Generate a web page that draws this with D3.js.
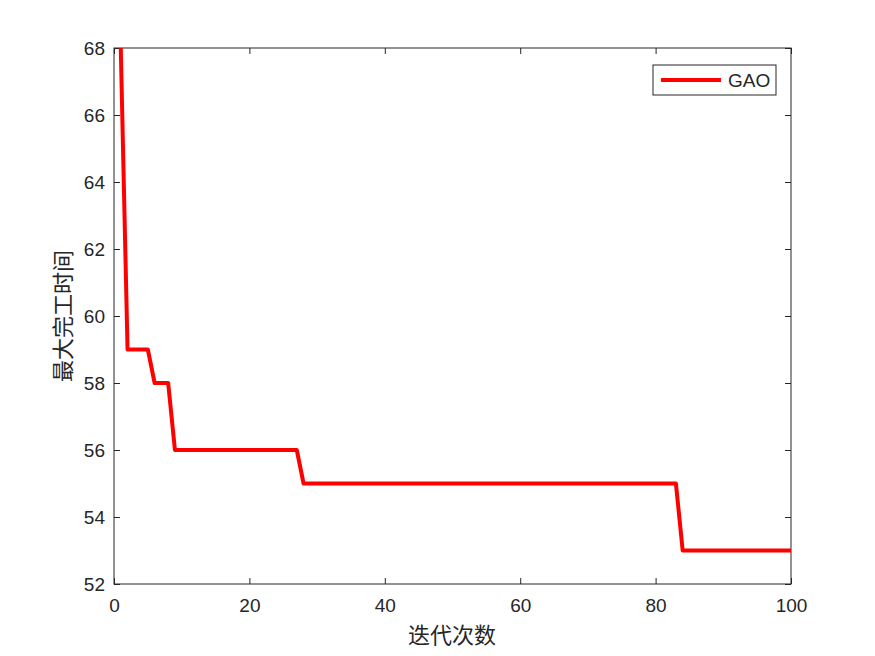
<!DOCTYPE html>
<html>
<head>
<meta charset="utf-8">
<script src="https://cdn.jsdelivr.net/npm/d3@7"></script>
<style>
  body { margin: 0; background: #fff; }
  text { font-family: "Liberation Sans", Arial, sans-serif; fill: #262626; }
  .cjk { font-family: "Noto Sans CJK SC", sans-serif; }
</style>
</head>
<body>
<script>
// 迭代数据 (GAO 收敛曲线)
const iterations = d3.range(1, 101);
// 每段: [起始迭代, 值]
const steps = [[1, 68], [2, 59], [6, 58], [9, 56], [28, 55], [84, 53]];
const gaoValues = iterations.map(function(it) {
    let v = steps[0][1];
    steps.forEach(function(s) { if (it >= s[0]) v = s[1]; });
    return v;
});
const xTicks = [0, 20, 40, 60, 80, 100];
const yTicks = [52, 54, 56, 58, 60, 62, 64, 66, 68];
const seriesName = "GAO";

const W = 875, H = 656;
const margin = {top: 48, right: 84, bottom: 72, left: 114};
const w = W - margin.left - margin.right;
const h = H - margin.top - margin.bottom;

const svg = d3.select("body").append("svg")
    .attr("width", W)
    .attr("height", H);

const g = svg.append("g")
    .attr("transform", "translate(" + margin.left + "," + margin.top + ")");

const xScale = d3.scaleLinear().domain([0, 100]).range([0, w]);
const yScale = d3.scaleLinear().domain([52, 68]).range([h, 0]);

g.append("clipPath").attr("id", "clip")
    .append("rect").attr("width", w).attr("height", h);

// 坐标轴 (刻度朝内)
const axisColor = "#262626";
function styleAxis(sel, hideText) {
    sel.select(".domain").remove();
    sel.selectAll("line").attr("stroke", axisColor);
    sel.selectAll("text")
        .attr("font-size", "19px")
        .attr("fill", axisColor)
        .style("font-family", "'Liberation Sans', Arial, sans-serif");
    if (hideText) sel.selectAll("text").remove();
}

g.append("g")
    .attr("transform", "translate(0," + h + ")")
    .call(d3.axisBottom(xScale).tickValues(xTicks).tickSize(-6).tickPadding(15))
    .call(styleAxis, false);
g.append("g")
    .call(d3.axisTop(xScale).tickValues(xTicks).tickSize(-6))
    .call(styleAxis, true);
g.append("g")
    .call(d3.axisLeft(yScale).tickValues(yTicks).tickSize(-6).tickPadding(9))
    .call(styleAxis, false);
g.append("g")
    .attr("transform", "translate(" + w + ",0)")
    .call(d3.axisRight(yScale).tickValues(yTicks).tickSize(-6))
    .call(styleAxis, true);

// 边框
g.append("rect")
    .attr("width", w).attr("height", h)
    .attr("fill", "none")
    .attr("stroke", axisColor)
    .attr("stroke-width", 1);

// 曲线
const line = d3.line()
    .x(function(d, i) { return xScale(iterations[i]); })
    .y(function(d) { return yScale(d); });

g.append("path")
    .datum(gaoValues)
    .attr("clip-path", "url(#clip)")
    .attr("d", line)
    .attr("fill", "none")
    .attr("stroke", "#ff0000")
    .attr("stroke-width", 4)
    .attr("stroke-linejoin", "round");

// 轴标签
svg.append("text")
    .attr("class", "cjk")
    .attr("x", margin.left + w / 2 - 0.5)
    .attr("y", 643)
    .attr("text-anchor", "middle")
    .attr("font-size", "22px")
    .text("迭代次数");

svg.append("text")
    .attr("class", "cjk")
    .attr("transform", "translate(71," + (margin.top + h / 2) + ") rotate(-90)")
    .attr("text-anchor", "middle")
    .attr("font-size", "22px")
    .text("最大完工时间");

// 图例
const legend = svg.append("g").attr("transform", "translate(653,65)");
legend.append("rect")
    .attr("width", 123).attr("height", 30)
    .attr("fill", "#fff")
    .attr("stroke", axisColor);
legend.append("line")
    .attr("x1", 8).attr("x2", 68)
    .attr("y1", 15).attr("y2", 15)
    .attr("stroke", "#ff0000").attr("stroke-width", 4);
legend.append("text")
    .attr("x", 75).attr("y", 22)
    .attr("font-size", "19px")
    .text(seriesName);
</script>
</body>
</html>
